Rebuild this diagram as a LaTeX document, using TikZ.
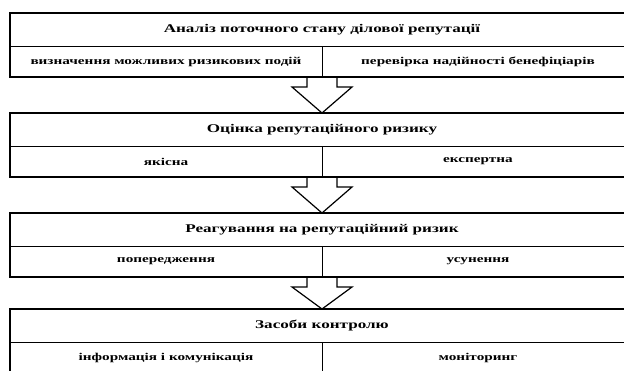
\documentclass[tikz,border=0pt]{standalone}
\usepackage{fontspec}
\setmainfont{Liberation Serif}[FakeStretch=1.45]
\usetikzlibrary{positioning}

\begin{document}
\begin{tikzpicture}[
        x=1pt, y=-1pt,
        font=\bfseries\fontsize{10.5}{12}\selectfont,
        head cell/.style={draw, line width=0.9pt, minimum width=624pt, minimum height=33pt, inner sep=0pt, outer sep=0pt, anchor=north west, font=\bfseries\fontsize{11.8}{13}\selectfont},
        sub cell/.style={draw, line width=0.9pt, minimum width=312pt, minimum height=31pt, inner sep=0pt, outer sep=0pt},
        outer box/.style={draw, line width=2.5pt},
        down arrow/.style={draw, line width=1.2pt, line join=miter},
    ]
    \useasboundingbox (0,0) rectangle (624,370);
    \clip (0,0) rectangle (624,370);

    % Чотири блоки: заголовок і два підпункти
    \foreach \i/\top/\headtext/\lefttext/\righttext in {
        1/13/{Аналіз поточного стану ділової репутації}/{визначення можливих ризикових подій}/{перевірка надійності бенефіціарів},
        2/113/{Оцінка репутаційного ризику}/{якісна}/{експертна},
        3/213/{Реагування на репутаційний ризик}/{попередження}/{усунення},
        4/309/{Засоби контролю}/{інформація і комунікація}/{моніторинг}
    } {
        \node[head cell] (head-\i) at (10,\top) {\headtext};
        \node[sub cell, below right=0pt and 0pt of head-\i.south west] (left-\i) {\lefttext};
        \node[sub cell, right=0pt of left-\i] (right-\i) {\righttext};
        % Товста зовнішня рамка
        \draw[outer box] (head-\i.north west) rectangle (right-\i.south east);
    }

    % Стрілки між блоками
    \foreach \i/\j in {1/2, 2/3, 3/4} {
        \draw[down arrow] ([xshift=-15pt]left-\i.south east) -- ++(0,10) -- ++(-15,0)
            -- (head-\j.north)
            -- ([xshift=30pt, yshift=-10pt]left-\i.south east) -- ++(-15,0) -- ++(0,-10);
    }

\end{tikzpicture}
\end{document}
